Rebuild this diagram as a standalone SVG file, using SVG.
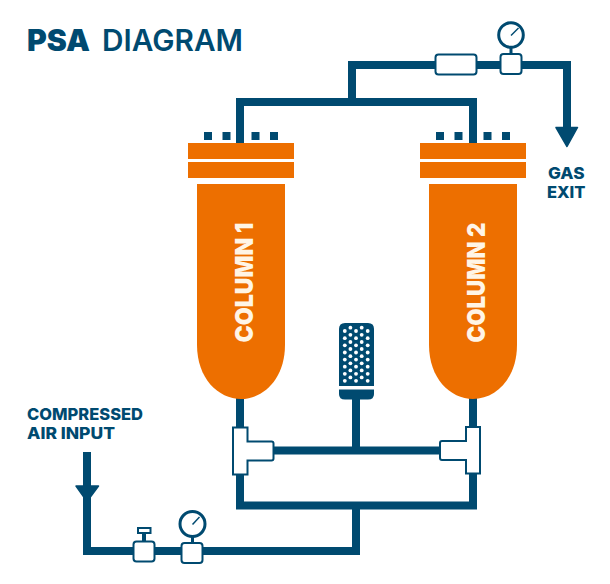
<svg xmlns="http://www.w3.org/2000/svg" width="610" height="584" viewBox="0 0 610 584">
<style>
.pipe{fill:none;stroke:#004a70;stroke-width:8}
.box{fill:#fff;stroke:#004a70;stroke-width:2}
.nv{fill:#004a70}
.or{fill:#ed6f00}
.lbl{font-family:"Inter","Noto Sans",sans-serif;font-weight:800;fill:#004a70;font-size:16.500px}
.col{font-family:"Inter","Noto Sans",sans-serif;font-weight:900;fill:#fff5e6;font-size:25px;text-anchor:middle}
.g{fill:#fff;stroke:#004a70;stroke-width:3}
.n{stroke:#004a70;stroke-width:1.5;fill:none}
.st{stroke:#004a70;stroke-width:3;fill:none}
.h{fill:#fff}
</style>
<defs>
<g id="holes"><circle cx="0" cy="331" r="1.9"/><circle cx="0" cy="338.2" r="1.9"/><circle cx="0" cy="345.3" r="1.9"/><circle cx="0" cy="352.5" r="1.9"/><circle cx="0" cy="359.6" r="1.9"/><circle cx="0" cy="366.7" r="1.9"/><circle cx="0" cy="373.8" r="1.9"/><circle cx="0" cy="380.8" r="1.9"/></g>
<g id="holes2"><circle cx="0" cy="327.7" r="1.9"/><circle cx="0" cy="334.8" r="1.9"/><circle cx="0" cy="342" r="1.9"/><circle cx="0" cy="349" r="1.9"/><circle cx="0" cy="356.2" r="1.9"/><circle cx="0" cy="363.3" r="1.9"/><circle cx="0" cy="370.4" r="1.9"/><circle cx="0" cy="377.4" r="1.9"/></g>
</defs>
<g id="connectors">
<path class="pipe" d="M240 143V102H473V143M352 102V65H567V128"/>
<path class="pipe" d="M240 395V505.500H473V395"/>
<path class="pipe" d="M356 395V450M356 505V551H87V452"/>
<path class="pipe" d="M250 450.500H460"/>
<path class="nv" d="M556 127.500H577.500L567 146.500Z" stroke="#004a70" stroke-width="1.500" stroke-linejoin="round"/>
<path class="nv" d="M76 486H98.500L87 501.500Z" stroke="#004a70" stroke-width="1.500" stroke-linejoin="round"/>
</g>
<g id="title"><text y="50.500" font-family="'Inter','Noto Sans',sans-serif" font-size="29.500" fill="#004a70"><tspan x="27" font-weight="900" textLength="63" lengthAdjust="spacingAndGlyphs">PSA</tspan> <tspan x="102" font-weight="600" textLength="141" lengthAdjust="spacingAndGlyphs">DIAGRAM</tspan></text></g>
<g id="column-1">
<rect class="nv" x="204" y="132" width="8" height="8"/><rect class="nv" x="222.500" y="132" width="8" height="8"/><rect class="nv" x="251.500" y="132" width="8" height="8"/><rect class="nv" x="270" y="132" width="8" height="8"/>
<rect class="or" x="188" y="143" width="106" height="16"/><rect class="or" x="188" y="162" width="106" height="16"/>
<path class="or" d="M197 184H285V345C285 378 264 399 241 399C218 399 197 378 197 345Z"/>
<text class="col" transform="translate(252.500 282.500) rotate(-90)" textLength="120" lengthAdjust="spacingAndGlyphs">COLUMN 1</text>
</g>
<g id="column-2">
<rect class="nv" x="436" y="132" width="8" height="8"/><rect class="nv" x="454.500" y="132" width="8" height="8"/><rect class="nv" x="483.500" y="132" width="8" height="8"/><rect class="nv" x="502" y="132" width="8" height="8"/>
<rect class="or" x="420" y="143" width="106" height="16"/><rect class="or" x="420" y="162" width="106" height="16"/>
<path class="or" d="M429 184H517V345C517 378 496 399 473 399C450 399 429 378 429 345Z"/>
<text class="col" transform="translate(484.500 282.500) rotate(-90)" textLength="120" lengthAdjust="spacingAndGlyphs">COLUMN 2</text>
</g>
<g id="silencer">
<path class="nv" d="M339 386V329Q339 323 345 323H368Q374 323 374 329V386Z"/>
<path class="nv" d="M339 389.500H374V394Q374 399.500 368 399.500H345Q339 399.500 339 394Z"/>
<g class="h"><use href="#holes" x="344.800"/><use href="#holes2" x="350.400"/><use href="#holes" x="356"/><use href="#holes2" x="361.700"/><use href="#holes" x="367.700"/></g>
</g>
<g id="tee-left"><path class="box" d="M233 427.500H247.500V441.500H271.500Q273.500 441.500 273.500 443.500V458.500Q273.500 460.500 271.500 460.500H247.500V474.500H233Z"/></g>
<g id="tee-right"><path class="box" d="M480 427H466V441H442Q440 441 440 443V458Q440 460 442 460H466V473.500H480Z"/></g>
<g id="filter"><rect class="box" x="435.500" y="54.500" width="41" height="20" rx="3"/></g>
<g id="gauge-top">
<path class="st" d="M511 48V54"/>
<circle class="g" cx="511" cy="35" r="12.300"/><path class="n" d="M511 35.500L518.500 28"/>
<rect class="box" x="500.500" y="54" width="21" height="20" rx="3"/>
</g>
<g id="valve">
<path class="st" d="M144 533V541" style="stroke-width:4"/>
<rect class="box" x="138" y="528" width="12.500" height="5"/>
<rect class="box" x="133.500" y="541.500" width="21" height="20" rx="3"/>
</g>
<g id="gauge-bottom">
<path class="st" d="M192.500 537V543"/>
<circle class="g" cx="192.500" cy="524" r="12.500"/><path class="n" d="M192.500 524.500L199.500 517"/>
<rect class="box" x="181.500" y="543" width="21" height="20" rx="3"/>
</g>
<g id="labels">
<text class="lbl" x="27" y="419.500" textLength="116" lengthAdjust="spacingAndGlyphs">COMPRESSED</text>
<text class="lbl" x="27" y="438.500" textLength="88" lengthAdjust="spacingAndGlyphs">AIR INPUT</text>
<text class="lbl" x="548" y="178.500" textLength="36.500" lengthAdjust="spacingAndGlyphs">GAS</text>
<text class="lbl" x="547" y="197.500" textLength="38.500" lengthAdjust="spacingAndGlyphs">EXIT</text>
</g>
</svg>
